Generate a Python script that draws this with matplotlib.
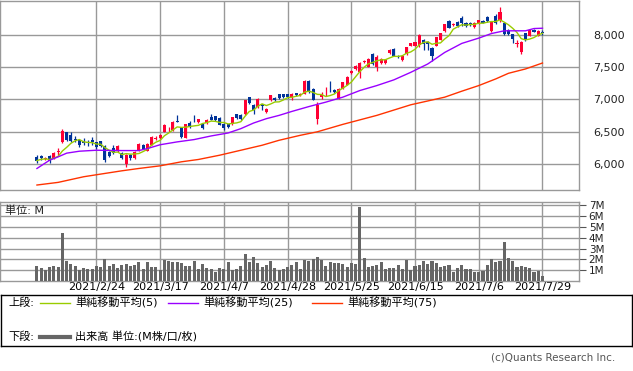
import numpy as np
import pandas as pd
import matplotlib
matplotlib.use('Agg')
import matplotlib.pyplot as plt

plt.rcParams['font.family'] = ['DejaVu Sans', 'Noto Sans CJK JP']

# ==========================================
# DATA
# ==========================================
opens = [6110, 6125, 6072, 6120, 6082, 6190, 6345, 6492, 6445, 6395,
         6370, 6360, 6350, 6370, 6345, 6360, 6282, 6190, 6250, 6200,
         6175, 6000, 6138, 6088, 6215, 6303, 6205, 6303, 6395, 6405,
         6497, 6510, 6523, 6667, 6574, 6410, 6636, 6705, 6651, 6626,
         6636, 6728, 6738, 6718, 6626, 6615, 6615, 6769, 6754, 6769,
         7036, 6908, 6882, 6923, 6800, 6985, 7026, 7077, 7077, 7077,
         7036, 7097, 7062, 7087, 7292, 7164, 6703, 7036, 7128, 7200,
         7149, 7010, 7164, 7231, 7405, 7472, 7420, 7574, 7508, 7703,
         7497, 7559, 7559, 7723, 7780, 7677, 7610, 7703, 7831, 7831,
         7841, 7918, 7882, 7790, 7831, 7923, 8062, 8215, 8154, 8205,
         8267, 8190, 8190, 8123, 8174, 8215, 8277, 8062, 8292, 8226,
         8190, 8072, 8010, 7862, 7728, 8026, 7985, 8082, 7985, 8046]
closes = [6055, 6095, 6092, 6048, 6172, 6198, 6512, 6370, 6360, 6370,
          6292, 6330, 6330, 6340, 6258, 6285, 6062, 6130, 6175, 6282,
          6088, 6138, 6088, 6190, 6318, 6241, 6308, 6420, 6410, 6456,
          6600, 6520, 6651, 6651, 6420, 6615, 6574, 6698, 6692, 6564,
          6687, 6687, 6677, 6610, 6559, 6574, 6728, 6718, 6703, 6985,
          6944, 6831, 7010, 6892, 6856, 7062, 6985, 7021, 7036, 7040,
          7087, 7062, 7087, 7292, 7113, 6995, 6908, 7072, 7138, 7190,
          7113, 7164, 7267, 7354, 7446, 7523, 7559, 7600, 7626, 7549,
          7661, 7626, 7610, 7764, 7677, 7652, 7677, 7805, 7867, 7882,
          8000, 7856, 7856, 7677, 7959, 8026, 8164, 8113, 8174, 8138,
          8190, 8138, 8154, 8190, 8226, 8190, 8215, 8205, 8190, 8359,
          8010, 8010, 7933, 7867, 7882, 7918, 8072, 8051, 8062, 8021]
highs = [6135, 6145, 6105, 6135, 6180, 6245, 6545, 6495, 6498, 6430,
         6380, 6405, 6380, 6420, 6350, 6365, 6290, 6200, 6290, 6290,
         6190, 6160, 6150, 6200, 6325, 6310, 6320, 6430, 6430, 6460,
         6620, 6580, 6660, 6754, 6580, 6620, 6665, 6754, 6700, 6640,
         6700, 6770, 6745, 6725, 6635, 6625, 6735, 6780, 6770, 6990,
         7040, 6935, 7020, 6935, 6865, 7070, 7035, 7085, 7085, 7085,
         7095, 7105, 7095, 7300, 7300, 7170, 6960, 7110, 7190, 7280,
         7160, 7170, 7275, 7360, 7455, 7530, 7575, 7610, 7635, 7720,
         7690, 7635, 7620, 7775, 7790, 7690, 7690, 7815, 7875, 7890,
         8010, 7933, 7908, 7805, 7970, 8035, 8175, 8225, 8185, 8215,
         8293, 8200, 8200, 8200, 8235, 8225, 8290, 8215, 8318, 8430,
         8200, 8085, 8010, 7918, 7908, 8035, 8085, 8095, 8072, 8072]
lows = [6010, 6070, 6060, 6010, 6075, 6140, 6320, 6360, 6345, 6345,
        6265, 6290, 6280, 6300, 6240, 6270, 6035, 6115, 6150, 6190,
        6075, 5960, 6070, 6080, 6205, 6230, 6200, 6295, 6370, 6395,
        6490, 6500, 6515, 6645, 6410, 6405, 6560, 6650, 6640, 6545,
        6625, 6680, 6670, 6600, 6523, 6560, 6605, 6705, 6690, 6760,
        6935, 6780, 6870, 6830, 6790, 6975, 6975, 7010, 7025, 7030,
        6985, 7050, 7055, 7080, 7100, 6985, 6615, 7010, 7060, 7110,
        7100, 7000, 7155, 7220, 7395, 7460, 7333, 7560, 7500, 7540,
        7445, 7550, 7550, 7710, 7665, 7640, 7600, 7695, 7820, 7820,
        7805, 7764, 7764, 7600, 7820, 7915, 8050, 8100, 8140, 8125,
        8138, 8125, 8140, 8110, 8165, 8180, 8205, 8050, 8164, 8205,
        8000, 7995, 7867, 7805, 7703, 7905, 7975, 8040, 7975, 8000]
volume_m = [1.36, 1.24, 1.06, 1.33, 1.42, 1.33, 4.39, 1.88, 1.61, 1.42,
            1.06, 1.24, 1.15, 1.15, 1.42, 1.27, 2.03, 1.42, 1.61, 1.24,
            1.51, 1.61, 1.42, 1.51, 1.73, 1.15, 1.73, 1.33, 1.33, 1.06,
            1.97, 1.88, 1.73, 1.79, 1.67, 1.42, 1.42, 1.88, 1.15, 1.61,
            1.24, 1.15, 0.81, 1.24, 1.15, 1.79, 1.06, 1.15, 1.42, 2.52,
            1.79, 2.25, 1.70, 1.33, 1.51, 1.88, 1.24, 1.06, 1.15, 1.33,
            1.51, 1.79, 1.15, 1.97, 1.88, 2.06, 2.25, 1.97, 1.42, 1.79,
            1.70, 1.70, 1.61, 1.33, 1.70, 1.61, 6.87, 2.16, 1.33, 1.42,
            1.51, 1.79, 1.15, 1.24, 1.24, 1.51, 1.15, 1.97, 1.06, 1.42,
            1.51, 1.88, 1.61, 1.88, 1.70, 1.33, 1.42, 1.51, 0.87, 1.24,
            1.51, 1.15, 1.15, 0.87, 0.87, 0.96, 1.51, 2.06, 1.79, 1.88,
            3.62, 2.16, 1.88, 1.33, 1.42, 1.33, 1.24, 0.87, 0.96, 0.50]

# moving averages of 25 and 75 days
ma25_idx = [0, 3, 5, 7, 10, 14, 20, 24, 26, 29, 33, 37, 41, 45, 48, 51, 54, 57,
            60, 64, 68, 72, 76, 80, 84, 88, 92, 96, 100, 104, 107, 110, 115, 117, 119]
ma25_val = [5933, 6062, 6113, 6170, 6200, 6215, 6210, 6210, 6241, 6300, 6344, 6380,
            6436, 6482, 6549, 6636, 6703, 6754, 6815, 6890, 6959, 7036, 7138, 7215,
            7303, 7420, 7549, 7728, 7867, 7949, 8020, 8062, 8062, 8097, 8102]
ma75_idx = [0, 5, 11, 15, 20, 24, 29, 34, 38, 43, 48, 53, 57, 62, 66, 72, 80, 88,
            96, 100, 104, 108, 111, 115, 119]
ma75_val = [5677, 5718, 5805, 5846, 5897, 5933, 5974, 6036, 6072, 6138, 6215, 6292,
            6369, 6446, 6500, 6615, 6754, 6918, 7036, 7128, 7215, 7318, 7405, 7472, 7564]

date_ticks = [14, 29, 44, 59, 74, 89, 104, 119]
date_labels = ['2021/2/24', '2021/3/17', '2021/4/7', '2021/4/28',
               '2021/5/25', '2021/6/15', '2021/7/6', '2021/7/29']

# ==========================================
# FIGURE
# ==========================================
W, H = 633, 371
fig = plt.figure(figsize=(W / 100, H / 100), dpi=100)
GRID = '#999999'
RED = '#ff0033'
BLUE = '#003399'


def px_rect(x0, y0, x1, y1):
    return [x0 / W, 1 - y1 / H, (x1 - x0) / W, (y1 - y0) / H]


idx = np.arange(len(closes))
o = np.array(opens)
c = np.array(closes)
up = c >= o
colors = np.where(up, RED, BLUE)
ma5 = pd.Series(closes).rolling(5, min_periods=1).mean()

# --- price panel ---
ax = fig.add_axes(px_rect(0, 1, 579, 190))
ax.vlines(idx, lows, highs, colors=colors, lw=0.9, zorder=3)
body_h = np.maximum(np.abs(c - o), 6)
ax.bar(idx, body_h, bottom=np.minimum(o, c), width=0.72, color=colors,
       linewidth=0, zorder=4)
ax.plot(idx, ma5, color='#99cc00', lw=1.0, zorder=5)
ax.plot(ma25_idx, ma25_val, color='#9900ff', lw=1.0, zorder=5)
ax.plot(ma75_idx, ma75_val, color='#ff3300', lw=1.0, zorder=5)
ax.set_xlim(-8.7, 127.6)
ax.set_ylim(5600, 8523)
ax.set_yticks([6000, 6500, 7000, 7500, 8000])
ax.set_yticklabels([f'{v:,}' for v in [6000, 6500, 7000, 7500, 8000]])
ax.set_xticks(date_ticks)
ax.tick_params(axis='x', length=0, labelbottom=False)
ax.yaxis.tick_right()
ax.tick_params(axis='y', length=0, pad=10, labelsize=8, colors='#222222')
ax.grid(True, color=GRID, lw=1.0)
ax.set_axisbelow(True)
for s in ax.spines.values():
    s.set_color(GRID)
    s.set_linewidth(1.0)

# --- volume panel ---
av = fig.add_axes(px_rect(0, 202, 579, 281))
av.bar(idx, volume_m, width=0.72, color='#666666', linewidth=0, zorder=3)
av.set_xlim(-8.7, 127.6)
av.set_ylim(0, 7.3)
av.set_yticks(range(1, 8))
av.set_yticklabels([f'{v}M' for v in range(1, 8)])
av.yaxis.tick_right()
av.tick_params(axis='y', length=5, width=0.8, color='#555555', pad=2,
               labelsize=7.5)
for lab in av.get_yticklabels():
    lab.set_color('#222222')
av.set_xticks(date_ticks)
av.set_xticklabels(date_labels)
av.tick_params(axis='x', length=0, pad=1, labelsize=8)
av.grid(True, color=GRID, lw=1.0)
av.set_axisbelow(True)
for s in av.spines.values():
    s.set_color(GRID)
    s.set_linewidth(1.0)
av.text(5 / 579, 0.89, '単位: M', transform=av.transAxes, fontsize=8,
        va='center', ha='left', color='#222222')

# --- legend box ---
lg = fig.add_axes(px_rect(1, 295, 632, 346))
lg.set_xlim(1, 632)
lg.set_ylim(346, 295)
lg.set_xticks([])
lg.set_yticks([])
for s in lg.spines.values():
    s.set_color('black')
    s.set_linewidth(1.0)
ty1, ty2 = 303, 337
lg.text(8, ty1, '上段:', fontsize=8, va='center', ha='left')
lg.plot([40, 70], [ty1, ty1], color='#99cc00', lw=1.0)
lg.text(75, ty1, '単純移動平均(5)', fontsize=8, va='center', ha='left')
lg.plot([168, 198], [ty1, ty1], color='#9900ff', lw=1.0)
lg.text(203, ty1, '単純移動平均(25)', fontsize=8, va='center', ha='left')
lg.plot([312, 342], [ty1, ty1], color='#ff3300', lw=1.0)
lg.text(347, ty1, '単純移動平均(75)', fontsize=8, va='center', ha='left')
lg.text(8, ty2, '下段:', fontsize=8, va='center', ha='left')
lg.plot([40, 70], [ty2, ty2], color='#666666', lw=3.0)
lg.text(75, ty2, '出来高 単位:(M株/口/枚)', fontsize=8, va='center', ha='left')

fig.text(615 / W, 1 - 358 / H, '(c)Quants Research Inc.', fontsize=7.5,
         ha='right', va='center', color='#555555')

fig.savefig('out.png', dpi=100)
